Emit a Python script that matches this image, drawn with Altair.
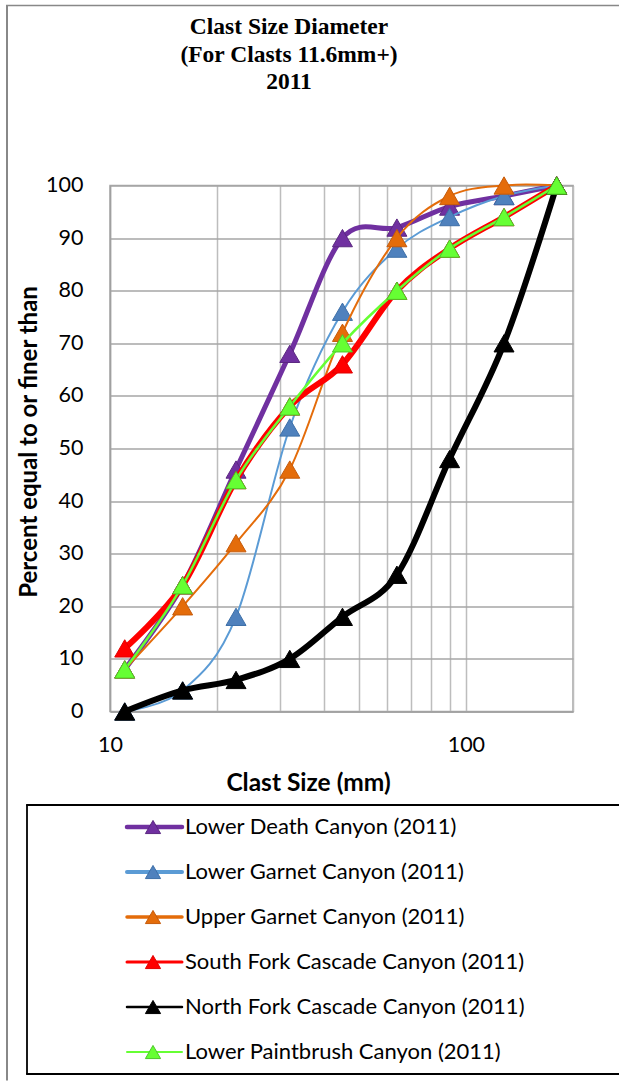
import altair as alt
import pandas as pd

# ---- data ----
sizes = [11, 16, 22.6, 32, 45, 64, 90, 128, 180]
series_names = [
    "Lower Death Canyon (2011)",
    "Lower Garnet Canyon (2011)",
    "Upper Garnet Canyon (2011)",
    "South Fork Cascade Canyon (2011)",
    "North Fork Cascade Canyon (2011)",
    "Lower Paintbrush Canyon (2011)",
]
lower_death = [8, 24, 46, 68, 90, 92, 96, 98, 100]
lower_garnet = [0, 4, 18, 54, 76, 88, 94, 98, 100]
upper_garnet = [8, 20, 32, 46, 72, 90, 98, 100, 100]
south_fork = [12, 24, 44, 58, 66, 80, 88, 94, 100]
north_fork = [0, 4, 6, 10, 18, 26, 48, 70, 100]
paintbrush = [8, 24, 44, 58, 70, 80, 88, 94, 100]
series_values = [lower_death, lower_garnet, upper_garnet, south_fork, north_fork, paintbrush]

x_grid_values = [10, 20, 30, 40, 50, 60, 70, 80, 90, 100, 200]
y_tick_values = [0, 10, 20, 30, 40, 50, 60, 70, 80, 90, 100]
title_lines = ["Clast Size Diameter", "(For Clasts 11.6mm+)", "2011"]

# ---- styles ----
line_colors = ["#7030A0", "#5B9BD5", "#E46C0A", "#FF0000", "#000000", "#66FF33"]
marker_fills = ["#7030A0", "#4F81BD", "#E46C0A", "#FF0000", "#000000", "#66FF33"]
marker_strokes = ["#5A2780", "#3D6FA8", "#C55A0A", "#E00000", "#000000", "#4CC72A"]
line_widths = [5, 2, 2, 6, 6, 2.5]
legend_widths = [4.5, 2, 2, 5, 5, 2]

rows = []
for name, vals in zip(series_names, series_values):
    for s, v in zip(sizes, vals):
        rows.append({"series": name, "size": s, "pct": v})
df = pd.DataFrame(rows)

W, H = 463, 526

x_enc = alt.X(
    "size:Q",
    scale=alt.Scale(type="log", domain=[10, 200]),
    axis=alt.Axis(
        values=x_grid_values,
        labelExpr="(datum.value == 10 || datum.value == 100) ? format(datum.value, 'd') : ''",
        ticks=False, tickSize=0, labelPadding=23, labelFlush=False, labelOverlap=False,
        labelFont="Lato", labelFontSize=21.5, labelColor="#000000",
        grid=True, gridColor="#bdbdbd", gridWidth=1.5,
        domainColor="#a0a0a0", domainWidth=1.5,
        title="Clast Size (mm)", titleFont="Lato", titleFontSize=24.5,
        titleFontWeight="bold", titleColor="#000000",
        titleX=198, titleY=72, titleAlign="center", titleBaseline="middle",
    ),
)
y_enc = alt.Y(
    "pct:Q",
    scale=alt.Scale(domain=[0, 100]),
    axis=alt.Axis(
        values=y_tick_values,
        ticks=False, tickSize=0, labelPadding=27,
        labelFont="Lato", labelFontSize=21.5, labelColor="#000000",
        grid=True, gridColor="#a6a6a6", gridWidth=1.5,
        domainColor="#a0a0a0", domainWidth=1.5,
        title="Percent equal to or finer than", titleFont="Lato", titleFontSize=24,
        titleFontWeight="bold", titleColor="#000000",
        titleX=-81, titleY=256, titleAngle=270, titleAlign="center", titleBaseline="middle",
    ),
)

base = alt.Chart(df)
series_layers = []
for i, name in enumerate(series_names):
    sub = base.transform_filter(alt.datum.series == name)
    series_layers.append(
        sub.mark_line(color=line_colors[i], strokeWidth=line_widths[i],
                      interpolate="cardinal", strokeCap="round", strokeJoin="round")
        .encode(x=x_enc, y=y_enc)
    )
    series_layers.append(
        sub.mark_point(shape="triangle-up", filled=True, size=400, opacity=1,
                       fill=marker_fills[i], stroke=marker_strokes[i], strokeWidth=1)
        .encode(x=x_enc, y=y_enc)
    )
main = alt.layer(*series_layers)

# ---- legend (own ordinal scale) ----
leg_df = pd.DataFrame({"series": series_names})
leg_y = alt.Y("series:N", scale=alt.Scale(type="point", domain=series_names,
                                          range=[641.5, 866.5], padding=0), axis=None)
leg_color = alt.Color("series:N", scale=alt.Scale(domain=series_names, range=line_colors), legend=None)
leg_fill = alt.Fill("series:N", scale=alt.Scale(domain=series_names, range=marker_fills), legend=None)
leg_stroke = alt.Stroke("series:N", scale=alt.Scale(domain=series_names, range=marker_strokes), legend=None)
leg_sw = alt.StrokeWidth("series:N", scale=alt.Scale(domain=series_names, range=legend_widths), legend=None)

leg_base = alt.Chart(leg_df)
leg_lines = leg_base.mark_rule(strokeCap="round").encode(
    x=alt.value(17), x2=alt.value(72), y=leg_y, color=leg_color, strokeWidth=leg_sw)
leg_marks = leg_base.mark_point(shape="triangle-up", filled=True, size=230, opacity=1,
                                strokeWidth=1).encode(
    x=alt.value(43), y=leg_y, fill=leg_fill, stroke=leg_stroke)
leg_text = leg_base.mark_text(align="left", baseline="middle", font="Lato", fontSize=22,
                              color="#000000").encode(
    x=alt.value(75), y=leg_y, text="series:N")
legend = alt.layer(leg_lines, leg_marks, leg_text)

one = alt.Data(values=[{"k": 0}])
box_top = alt.Chart(one).mark_rule(color="#000000", strokeWidth=1.8).encode(
    x=alt.value(-83.9), x2=alt.value(509), y=alt.value(619.5))
box_bottom = alt.Chart(one).mark_rule(color="#000000", strokeWidth=2.2).encode(
    x=alt.value(-83.9), x2=alt.value(509), y=alt.value(888.5))
box_left = alt.Chart(one).mark_rule(color="#000000", strokeWidth=1.8).encode(
    x=alt.value(-83), y=alt.value(619.5), y2=alt.value(888.5))
frame_left = alt.Chart(one).mark_rule(color="#888888", strokeWidth=2).encode(
    x=alt.value(-103), y=alt.value(-180), y2=alt.value(895))
frame_top = alt.Chart(one).mark_rule(color="#888888", strokeWidth=1.3).encode(
    x=alt.value(-104), x2=alt.value(509), y=alt.value(-180))
title = alt.Chart(one).mark_text(
    text=title_lines, font="Liberation Serif", fontWeight="bold", fontSize=23.5,
    lineHeight=27.5, align="center", baseline="middle", color="#000000",
).encode(x=alt.value(179), y=alt.value(-158.5))

decor = alt.layer(box_top, box_bottom, box_left, frame_left, frame_top, title)

chart = (
    alt.layer(main, legend, decor)
    .resolve_scale(y="independent")
    .properties(
        width=W, height=H,
        autosize=alt.AutoSizeParams(type="none"),
        padding={"left": 110, "top": 185.5, "right": 48, "bottom": 370},
        background="#ffffff",
    )
    .configure_view(stroke="#a6a6a6", strokeWidth=1.5)
)

chart.save("out.html", embed_options={"renderer": "svg", "actions": False})
